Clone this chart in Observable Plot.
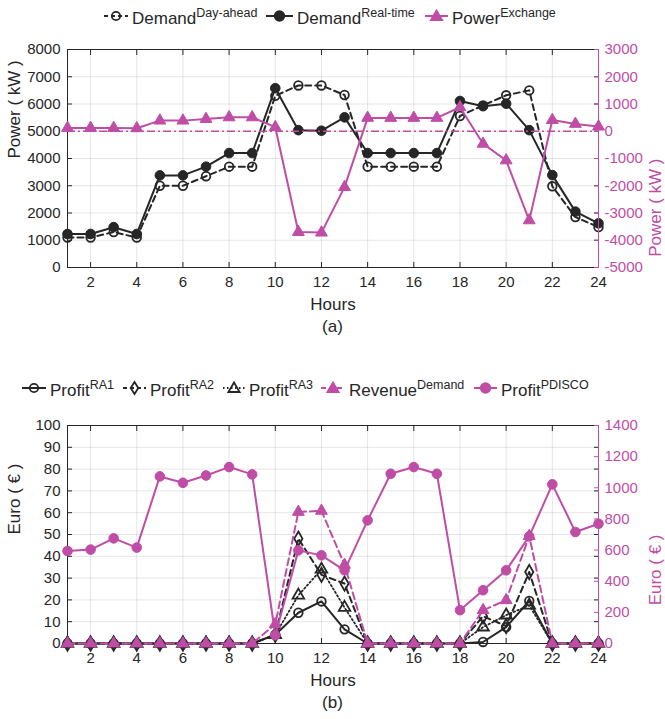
<!DOCTYPE html>
<html>
<head>
<meta charset="utf-8">
<script src="https://cdn.jsdelivr.net/npm/d3@7"></script>
<script src="https://cdn.jsdelivr.net/npm/@observablehq/plot@0.6"></script>
<style>
  body { margin: 0; background: #fff; font-family: 'Liberation Sans', Arial, Helvetica, sans-serif; color: #262626; }
  #root { position: relative; width: 665px; height: 719px; overflow: hidden; background: #fff; }
  .layer { position: absolute; left: 0; }
  .item { position: absolute; display: flex; align-items: center; font-size: 17px; white-space: nowrap; line-height: 20px; height: 20px; }
  .item svg { display: block; }
  .item .sup { font-size: 12.5px; vertical-align: 7px; }
  .cap { position: absolute; left: 0; width: 665px; text-align: center; font-size: 17px; line-height: 20px; }
</style>
</head>
<body>
<div id="root"></div>
<script>
// ---------------- data ----------------
const hours = [1, 2, 3, 4, 5, 6, 7, 8, 9, 10, 11, 12, 13, 14, 15, 16, 17, 18, 19, 20, 21, 22, 23, 24];
const xTicks = [2, 4, 6, 8, 10, 12, 14, 16, 18, 20, 22, 24];

// Panel (a) — kW
const demandDayAhead = [1100, 1100, 1300, 1100, 3000, 3000, 3350, 3700, 3700, 6300, 6680, 6680, 6330, 3700, 3700, 3700, 3700, 5560, 5950, 6320, 6500, 2980, 1850, 1480];
const demandRealTime = [1230, 1230, 1480, 1230, 3380, 3380, 3700, 4200, 4200, 6580, 5040, 5020, 5510, 4200, 4200, 4200, 4200, 6110, 5920, 6010, 5040, 3390, 2050, 1620];
const powerExchange = [120, 120, 120, 110, 390, 390, 450, 510, 510, 150, -3700, -3720, -2050, 490, 490, 490, 490, 880, -460, -1070, -3270, 410, 270, 170];
const powerTicksLeft = [0, 1000, 2000, 3000, 4000, 5000, 6000, 7000, 8000];
const powerTicksRight = [-5000, -4000, -3000, -2000, -1000, 0, 1000, 2000, 3000];

// Panel (b) — Euro
const profitRA1 = [0, 0, 0, 0, 0, 0, 0, 0, 0, 4, 14.1, 19.3, 6.5, 0, 0, 0, 0, 0, 0.7, 7.5, 19.5, 0, 0, 0];
const profitRA2 = [0, 0, 0, 0, 0, 0, 0, 0, 0, 4, 48.1, 31.5, 27.5, 0, 0, 0, 0, 0, 12.5, 8, 32.8, 0, 0, 0];
const profitRA3 = [0, 0, 0, 0, 0, 0, 0, 0, 0, 4, 22.1, 34, 16.5, 0, 0, 0, 0, 0, 7.5, 13, 17.5, 0, 0, 0];
const revenueDemand = [0, 0, 0, 0, 0, 0, 0, 0, 0, 124, 845, 852, 505, 0, 0, 0, 0, 0, 214, 278, 690, 0, 0, 0];
const profitPDISCO = [594, 603, 675, 616, 1073, 1032, 1079, 1133, 1086, 53, 598, 566, 470, 791, 1090, 1133, 1090, 214, 342, 470, 688, 1022, 716, 769];
const euroTicksLeft = [0, 10, 20, 30, 40, 50, 60, 70, 80, 90, 100];
const euroTicksRight = [0, 200, 400, 600, 800, 1000, 1200, 1400];

// ---------------- styling ----------------
const INK = "#262626";
const MAG = "#BF4DA6";
const FONT = "'Liberation Sans', Arial, Helvetica, sans-serif";
const GRID = {stroke: "#000", strokeOpacity: 0.1};

function rows(values) {
  return hours.map((h, i) => ({hour: h, v: values[i]}));
}
function series(values, s) {
  const data = rows(values);
  return [
    Plot.line(data, {x: "hour", y: "v", stroke: s.color, strokeWidth: s.width || 2, strokeDasharray: s.dash}),
    Plot.dot(data, {x: "hour", y: "v", symbol: s.symbol, r: s.r,
      fill: s.filled ? s.color : "none", stroke: s.color, strokeWidth: s.filled ? 1 : 1.8})
  ];
}
function makePlot(yDomain, marginTop, height, marks) {
  return Plot.plot({
    width: 665, height,
    marginLeft: 67, marginRight: 67, marginTop, marginBottom: height - marginTop - 218,
    x: {domain: [1, 24], axis: null},
    y: {domain: yDomain, axis: null},
    style: {fontFamily: FONT, fontSize: "15px", color: INK, background: "transparent", overflow: "visible"},
    marks
  });
}
function leftMarks(ticks, yLabel) {
  const fmt = d => String(d);
  return [
    Plot.gridX(xTicks, GRID),
    Plot.gridY(ticks, GRID),
    Plot.frame({stroke: INK}),
    Plot.axisX(xTicks, {anchor: "bottom", tickSize: -5, tickPadding: 14, tickFormat: fmt, label: null}),
    Plot.axisX(xTicks, {anchor: "top", tickSize: -5, tickFormat: () => "", label: null}),
    Plot.axisY(ticks, {anchor: "left", tickSize: -5, tickPadding: 12, tickFormat: fmt, label: null}),
    Plot.axisY(ticks, {anchor: "right", tickSize: -5, tickFormat: () => "", label: null}),
    Plot.text(["Hours"], {text: d => d, frameAnchor: "bottom", dy: 42, fontSize: 17, fill: INK}),
    Plot.text([yLabel], {text: d => d, frameAnchor: "left", dx: -53, rotate: -90, fontSize: 17, fill: INK})
  ];
}
function rightMarks(ticks, yLabel) {
  return [
    Plot.ruleX([24], {stroke: MAG, strokeWidth: 1}),
    Plot.axisY(ticks, {anchor: "right", tickSize: -5, tickPadding: 11, tickFormat: d => String(d), color: MAG, label: null}),
    Plot.text([yLabel], {text: d => d, frameAnchor: "right", dx: 57, rotate: -90, fontSize: 17, fill: MAG})
  ];
}
function layer(svg, top) {
  const div = document.createElement("div");
  div.className = "layer";
  div.style.top = top + "px";
  div.appendChild(svg);
  root.appendChild(div);
}

const root = document.getElementById("root");

// ---------------- panel (a) ----------------
layer(makePlot([0, 8000], 14, 300, [
  ...leftMarks(powerTicksLeft, "Power ( kW )"),
  ...series(demandDayAhead, {color: INK, dash: "6,4", symbol: "circle", r: 4.3, filled: false}),
  ...series(demandRealTime, {color: INK, symbol: "circle", r: 4.8, filled: true})
]), 35);
layer(makePlot([-5000, 3000], 14, 300, [
  ...rightMarks(powerTicksRight, "Power ( kW )"),
  Plot.ruleY([0], {stroke: MAG, strokeWidth: 1.5, strokeDasharray: "8,3,2,3"}),
  ...series(powerExchange, {color: MAG, symbol: "triangle", r: 4.4, filled: true})
]), 35);

// ---------------- panel (b) ----------------
layer(makePlot([0, 100], 15, 300, [
  ...leftMarks(euroTicksLeft, "Euro ( € )"),
  ...series(profitRA1, {color: INK, symbol: "circle", r: 4.3, filled: false}),
  ...series(profitRA2, {color: INK, dash: "6,4", symbol: "diamond", r: 4.3, filled: false}),
  ...series(profitRA3, {color: INK, dash: "1.5,2.5", symbol: "triangle", r: 4.3, filled: false, width: 1.8})
]), 410);
layer(makePlot([0, 1400], 15, 300, [
  ...rightMarks(euroTicksRight, "Euro ( € )"),
  ...series(revenueDemand, {color: MAG, dash: "7,4", symbol: "triangle", r: 4.4, filled: true}),
  ...series(profitPDISCO, {color: MAG, symbol: "circle", r: 4.8, filled: true})
]), 410);

// ---------------- legends & captions ----------------
function swatch(w, s) {
  const cy = 10, cx = w / 2;
  let m = "";
  if (s.symbol === "circle") m = `<circle cx="${cx}" cy="${cy}" r="${s.filled ? 4.8 : 4.2}" fill="${s.filled ? s.color : "none"}" stroke="${s.color}" stroke-width="1.8"/>`;
  if (s.symbol === "triangle") m = `<path d="M${cx},${cy - 5.5}L${cx + 5.6},${cy + 4}L${cx - 5.6},${cy + 4}Z" fill="${s.filled ? s.color : "none"}" stroke="${s.color}" stroke-width="1.8"/>`;
  if (s.symbol === "diamond") m = `<path d="M${cx},${cy - 6}L${cx + 3.8},${cy}L${cx},${cy + 6}L${cx - 3.8},${cy}Z" fill="none" stroke="${s.color}" stroke-width="1.8"/>`;
  return `<svg width="${w}" height="20"><line x1="0" x2="${w}" y1="${cy}" y2="${cy}" stroke="${s.color}" stroke-width="${s.width || 2}" ${s.dash ? `stroke-dasharray="${s.dash}"` : ""}/>${m}</svg>`;
}
function legendItem(left, textLeft, top, s, main, sup) {
  const div = document.createElement("div");
  div.className = "item";
  div.style.left = left + "px";
  div.style.top = top + "px";
  const w = textLeft - left - 4;
  div.innerHTML = swatch(w, s) + `<span style="margin-left:4px">${main}<span class="sup">${sup}</span></span>`;
  root.appendChild(div);
}
legendItem(104, 132, 6, {color: INK, dash: "4,3", symbol: "circle"}, "Demand", "Day-ahead");
legendItem(266, 297, 6, {color: INK, symbol: "circle", filled: true}, "Demand", "Real-time");
legendItem(425, 452, 6, {color: MAG, symbol: "triangle", filled: true}, "Power", "Exchange");

legendItem(22, 50, 378, {color: INK, symbol: "circle"}, "Profit", "RA1");
legendItem(123, 150, 378, {color: INK, dash: "4,3", symbol: "diamond"}, "Profit", "RA2");
legendItem(223, 249, 378, {color: INK, dash: "1.5,2.5", symbol: "triangle", width: 1.8}, "Profit", "RA3");
legendItem(321, 349, 378, {color: MAG, dash: "5,3", symbol: "triangle", filled: true}, "Revenue", "Demand");
legendItem(474, 501, 378, {color: MAG, symbol: "circle", filled: true}, "Profit", "PDISCO");

function caption(text, top) {
  const d = document.createElement("div");
  d.className = "cap";
  d.style.top = top + "px";
  d.textContent = text;
  root.appendChild(d);
}
caption("(a)", 317);
caption("(b)", 693);
</script>
</body>
</html>
